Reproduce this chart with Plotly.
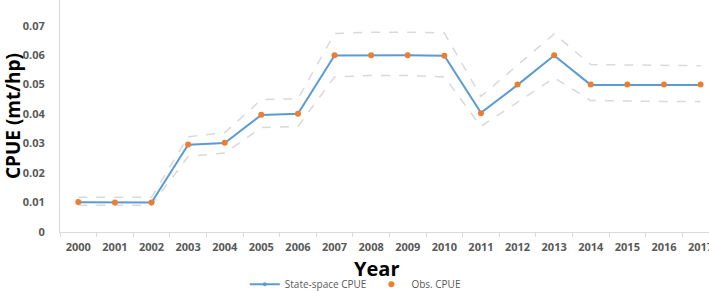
import plotly.graph_objects as go

years = [str(y) for y in range(2000, 2018)]
state_space = [0.0101, 0.0100, 0.0100, 0.0296, 0.0302, 0.0397, 0.0401, 0.0599, 0.0600, 0.0600,
               0.0598, 0.0404, 0.0499, 0.0599, 0.0499, 0.0499, 0.0499, 0.0499]
obs_cpue = [0.0102, 0.0100, 0.0100, 0.0297, 0.0303, 0.0398, 0.0401, 0.0600, 0.0600, 0.0600,
            0.0598, 0.0403, 0.0500, 0.0600, 0.0500, 0.0500, 0.0500, 0.0500]
upper_ci = [0.0118, 0.0117, 0.0118, 0.0323, 0.0337, 0.0449, 0.0452, 0.0673, 0.0678, 0.0678,
            0.0675, 0.0460, 0.0567, 0.0672, 0.0568, 0.0566, 0.0565, 0.0564]
lower_ci = [0.0091, 0.0091, 0.0091, 0.0256, 0.0268, 0.0354, 0.0358, 0.0526, 0.0531, 0.0531,
            0.0526, 0.0358, 0.0441, 0.0523, 0.0446, 0.0444, 0.0443, 0.0443]
y_ticks = [0, 0.01, 0.02, 0.03, 0.04, 0.05, 0.06, 0.07]
y_tick_text = ["0", "0.01", "0.02", "0.03", "0.04", "0.05", "0.06", "0.07"]

FONT = "Open Sans"
GRAY = "#595959"

fig = go.Figure()
for band in (upper_ci, lower_ci):
    fig.add_trace(go.Scatter(x=years, y=band, mode="lines", showlegend=False,
                             line=dict(color="#d9d9d9", width=1.5, dash="dash"),
                             hoverinfo="skip"))
fig.add_trace(go.Scatter(x=years, y=state_space, mode="lines+markers", name="State-space CPUE",
                         line=dict(color="#5b9bd5", width=2),
                         marker=dict(color="#5b9bd5", size=4)))
fig.add_trace(go.Scatter(x=years, y=obs_cpue, mode="markers", name="Obs. CPUE",
                         marker=dict(color="#ed7d31", size=6)))

fig.add_annotation(x=0.488, xref="paper", y=-0.156, yref="paper", text="Year", showarrow=False,
                   xanchor="center", yanchor="middle",
                   font=dict(family=FONT, size=20, color="black", weight="bold"))

fig.update_layout(
    width=709, height=291,
    margin=dict(l=60, r=0, t=0, b=59, autoexpand=False),
    paper_bgcolor="white", plot_bgcolor="white",
    font=dict(family=FONT, color=GRAY),
    xaxis=dict(type="category", range=[-0.5, 17.23], showgrid=False,
               showline=True, linecolor="#d9d9d9", linewidth=1,
               ticks="outside", tickson="boundaries", ticklen=4, tickcolor="#d9d9d9",
               tickfont=dict(family=FONT, size=11, color=GRAY, weight="bold"),
               ticklabelstandoff=5),
    yaxis=dict(range=[0, 0.0787], tickvals=y_ticks, ticktext=y_tick_text, showgrid=False,
               showline=True, linecolor="#d9d9d9", linewidth=1, zeroline=False,
               ticks="", ticklabelstandoff=12,
               tickfont=dict(family=FONT, size=11, color=GRAY, weight="bold"),
               title=dict(text="CPUE (mt/hp)", standoff=6,
                          font=dict(family=FONT, size=19, color="black", weight="bold"))),
    legend=dict(orientation="h", x=0.455, xanchor="center", y=-0.225, yanchor="middle",
                font=dict(family=FONT, size=10, color=GRAY), itemwidth=30,
                bgcolor="rgba(0,0,0,0)"),
)

fig.write_html("out.html")
